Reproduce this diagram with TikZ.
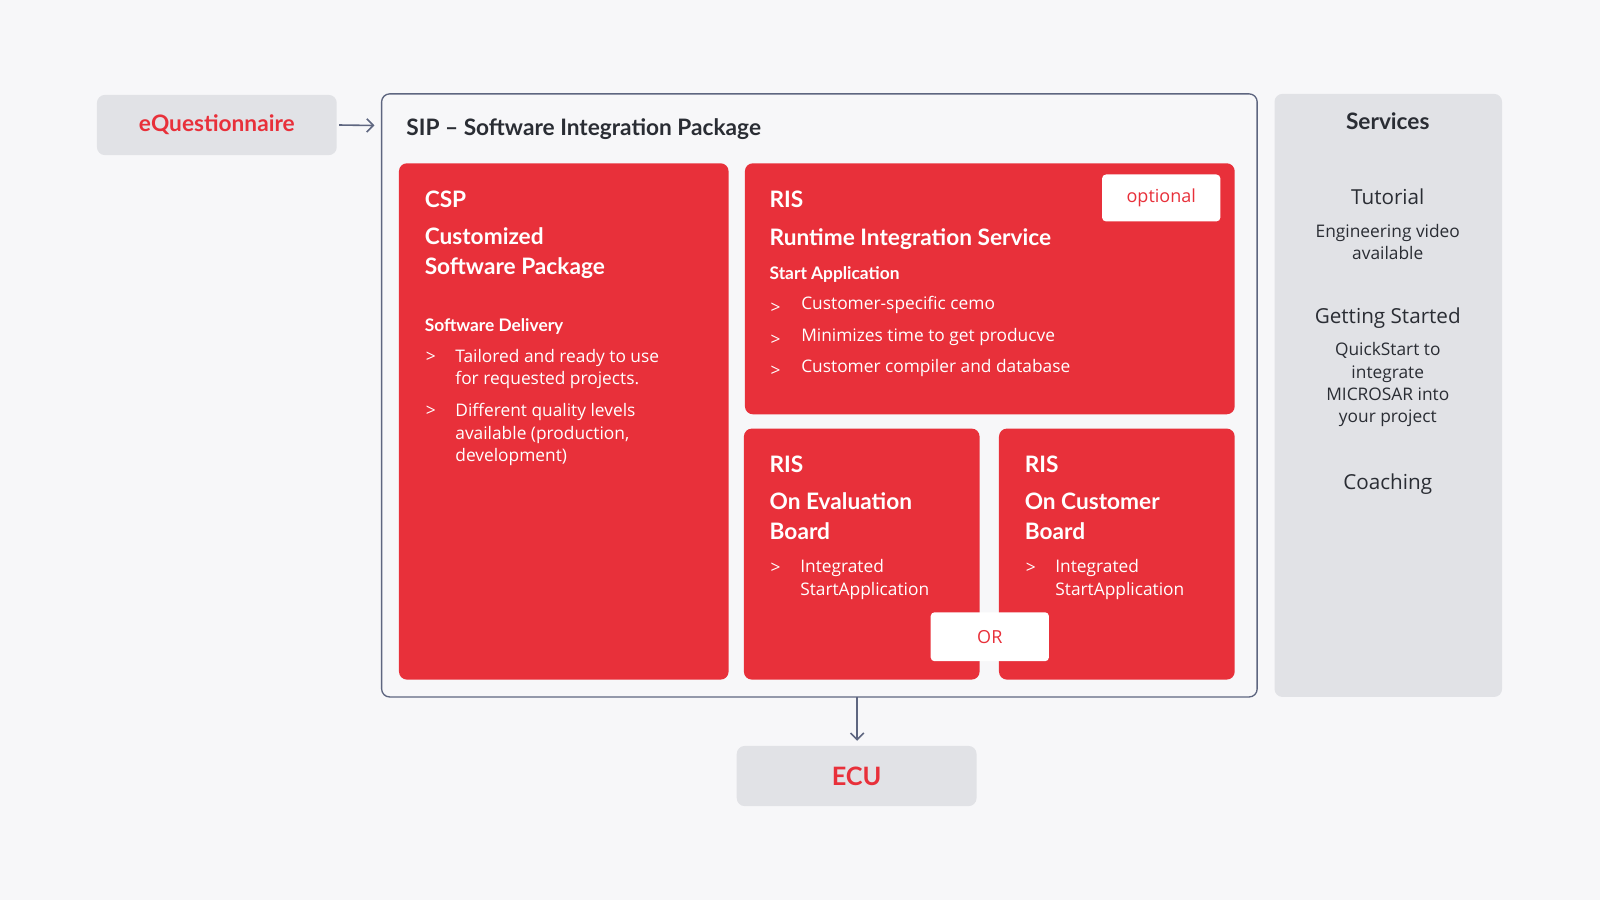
\documentclass[tikz,border=0pt]{standalone}
\usepackage{fontspec}
\setmainfont{Open Sans}
\newfontfamily\headfont{Lato}
\usepackage{tikz}
\usetikzlibrary{arrows.meta}
\definecolor{vred}{HTML}{E8303A}
\definecolor{vgray}{HTML}{E1E2E6}
\definecolor{vbg}{HTML}{F7F7F9}
\definecolor{vline}{HTML}{5E6680}
\definecolor{vtext}{HTML}{2A2D34}
\begin{document}
\begin{tikzpicture}[x=0.7653pt,y=0.7653pt,yscale=-1,xscale=1,
  redbox/.style={fill=vred,rounded corners=6pt},
  graybox/.style={fill=vgray,rounded corners=6pt},
  whitebox/.style={fill=white,rounded corners=3pt},
  head/.style={anchor=west,inner sep=0pt,text=white,font=\headfont\bfseries\fontsize{17}{20}\selectfont},
  sub/.style={anchor=west,inner sep=0pt,text=white,font=\headfont\bfseries\fontsize{13}{15}\selectfont},
  body/.style={anchor=north west,inner sep=0pt,text=white,align=left,font=\fontsize{13}{16.8}\selectfont},
  svc/.style={inner sep=0pt,text=vtext,align=center,font=\fontsize{13}{16.8}\selectfont},
  arr/.style={draw=vline,line width=1.2pt,-{Straight Barb[length=5pt,width=10pt]}}]
\fill[vbg] (0,0) rectangle (1568,882);
\useasboundingbox (0,0) rectangle (1568,882);

% boxes
\node[graybox,minimum width=235*0.7653pt,minimum height=59*0.7653pt] (eq) at (212.5,122.5) [text=vred,font=\headfont\bfseries\fontsize{17}{20}\selectfont] {eQuestionnaire};
\draw[fill=vbg,draw=vline,line width=1pt,rounded corners=6pt] (374,92) rectangle (1232,683);
\coordinate (sipw) at (367,123);
\coordinate (sips) at (840,683);
\coordinate (ecun) at (840,726);
\node (sip) at (398,127) [anchor=west,inner sep=0pt,text=vtext,font=\headfont\bfseries\fontsize{17}{20}\selectfont] {SIP – Software Integration Package};
\fill[redbox] (391,160) rectangle (714,666);
\fill[redbox] (730,160) rectangle (1210,406);
\fill[redbox] (729,420) rectangle (960,666);
\fill[redbox] (979,420) rectangle (1210,666);
\fill[whitebox] (1080,171) rectangle (1196,217);
\fill[whitebox] (912,600) rectangle (1028,648);
\fill[graybox] (1249,92) rectangle (1472,683);
\node[graybox,minimum width=235*0.7653pt,minimum height=59*0.7653pt] (ecu) at (839.5,760.5) [text=vred,font=\headfont\bfseries\fontsize{19}{22}\selectfont] {ECU};

% CSP
\node[head] (csp) at (416,195) {CSP};
\node[head,anchor=north west,align=left,font=\headfont\bfseries\fontsize{17}{22.5}\selectfont] (cspt) at (416,223) {Customized\\Software Package};
\node[sub] (cspd) at (416,320) {Software Delivery};
\node[body] (cspa) at (417,345) {>};
\node[body] (cspb) at (446,342) {Tailored and ready to use\\for requested projects.};
\node[body] (cspc) at (417,398) {>};
\node[body] (cspe) at (446,395) {Different quality levels\\available (production,\\development)};

% RIS top
\node[head] (ris) at (754,195) {RIS};
\node[head] (rist) at (754,234) {Runtime Integration Service};
\node[sub] (risa) at (754,269) {Start Application};
\foreach \y/\t [count=\i] in {299/Customer-specific cemo,330/Minimizes time to get producve,361/Customer compiler and database}{
  \node[body,anchor=west] (rg\i) at (755,\y+3) {>};
  \node[body,anchor=west] (rb\i) at (785,\y) {\t};
}
\node (opt) at (1138,194) [text=vred,font=\fontsize{13.5}{16}\selectfont] {optional};

% RIS boards
\node[head] (rise) at (754,455) {RIS};
\node[head,anchor=north west,align=left,font=\headfont\bfseries\fontsize{17}{22.5}\selectfont] (riset) at (754,483) {On Evaluation\\Board};
\node[body] (risea) at (755,551) {>};
\node[body] (riseb) at (784,548) {Integrated\\StartApplication};
\node[head] (risc) at (1004,455) {RIS};
\node[head,anchor=north west,align=left,font=\headfont\bfseries\fontsize{17}{22.5}\selectfont] (risct) at (1004,483) {On Customer\\Board};
\node[body] (risca) at (1005,551) {>};
\node[body] (riscb) at (1034,548) {Integrated\\StartApplication};
\node (or) at (970,624) [text=vred,font=\fontsize{13.5}{16}\selectfont] {OR};

% services
\node[svc,font=\headfont\bfseries\fontsize{17}{20}\selectfont] (svc) at (1360,119) {Services};
\node[svc,font=\fontsize{15.5}{19}\selectfont] (tut) at (1360,193) {Tutorial};
\node[svc] (tutb) at (1360,237) {Engineering video\\available};
\node[svc,font=\fontsize{15.5}{19}\selectfont] (gs) at (1360,312) {Getting Started};
\node[svc] (gsb) at (1360,377) {QuickStart to\\integrate\\MICROSAR into\\your project};
\node[svc,font=\fontsize{15.5}{19}\selectfont] (coach) at (1360,474) {Coaching};

% arrows
\draw[arr] (eq.east) ++(2,0) -- (sipw);
\draw[arr] (sips) -- (ecun);
\end{tikzpicture}
\end{document}
